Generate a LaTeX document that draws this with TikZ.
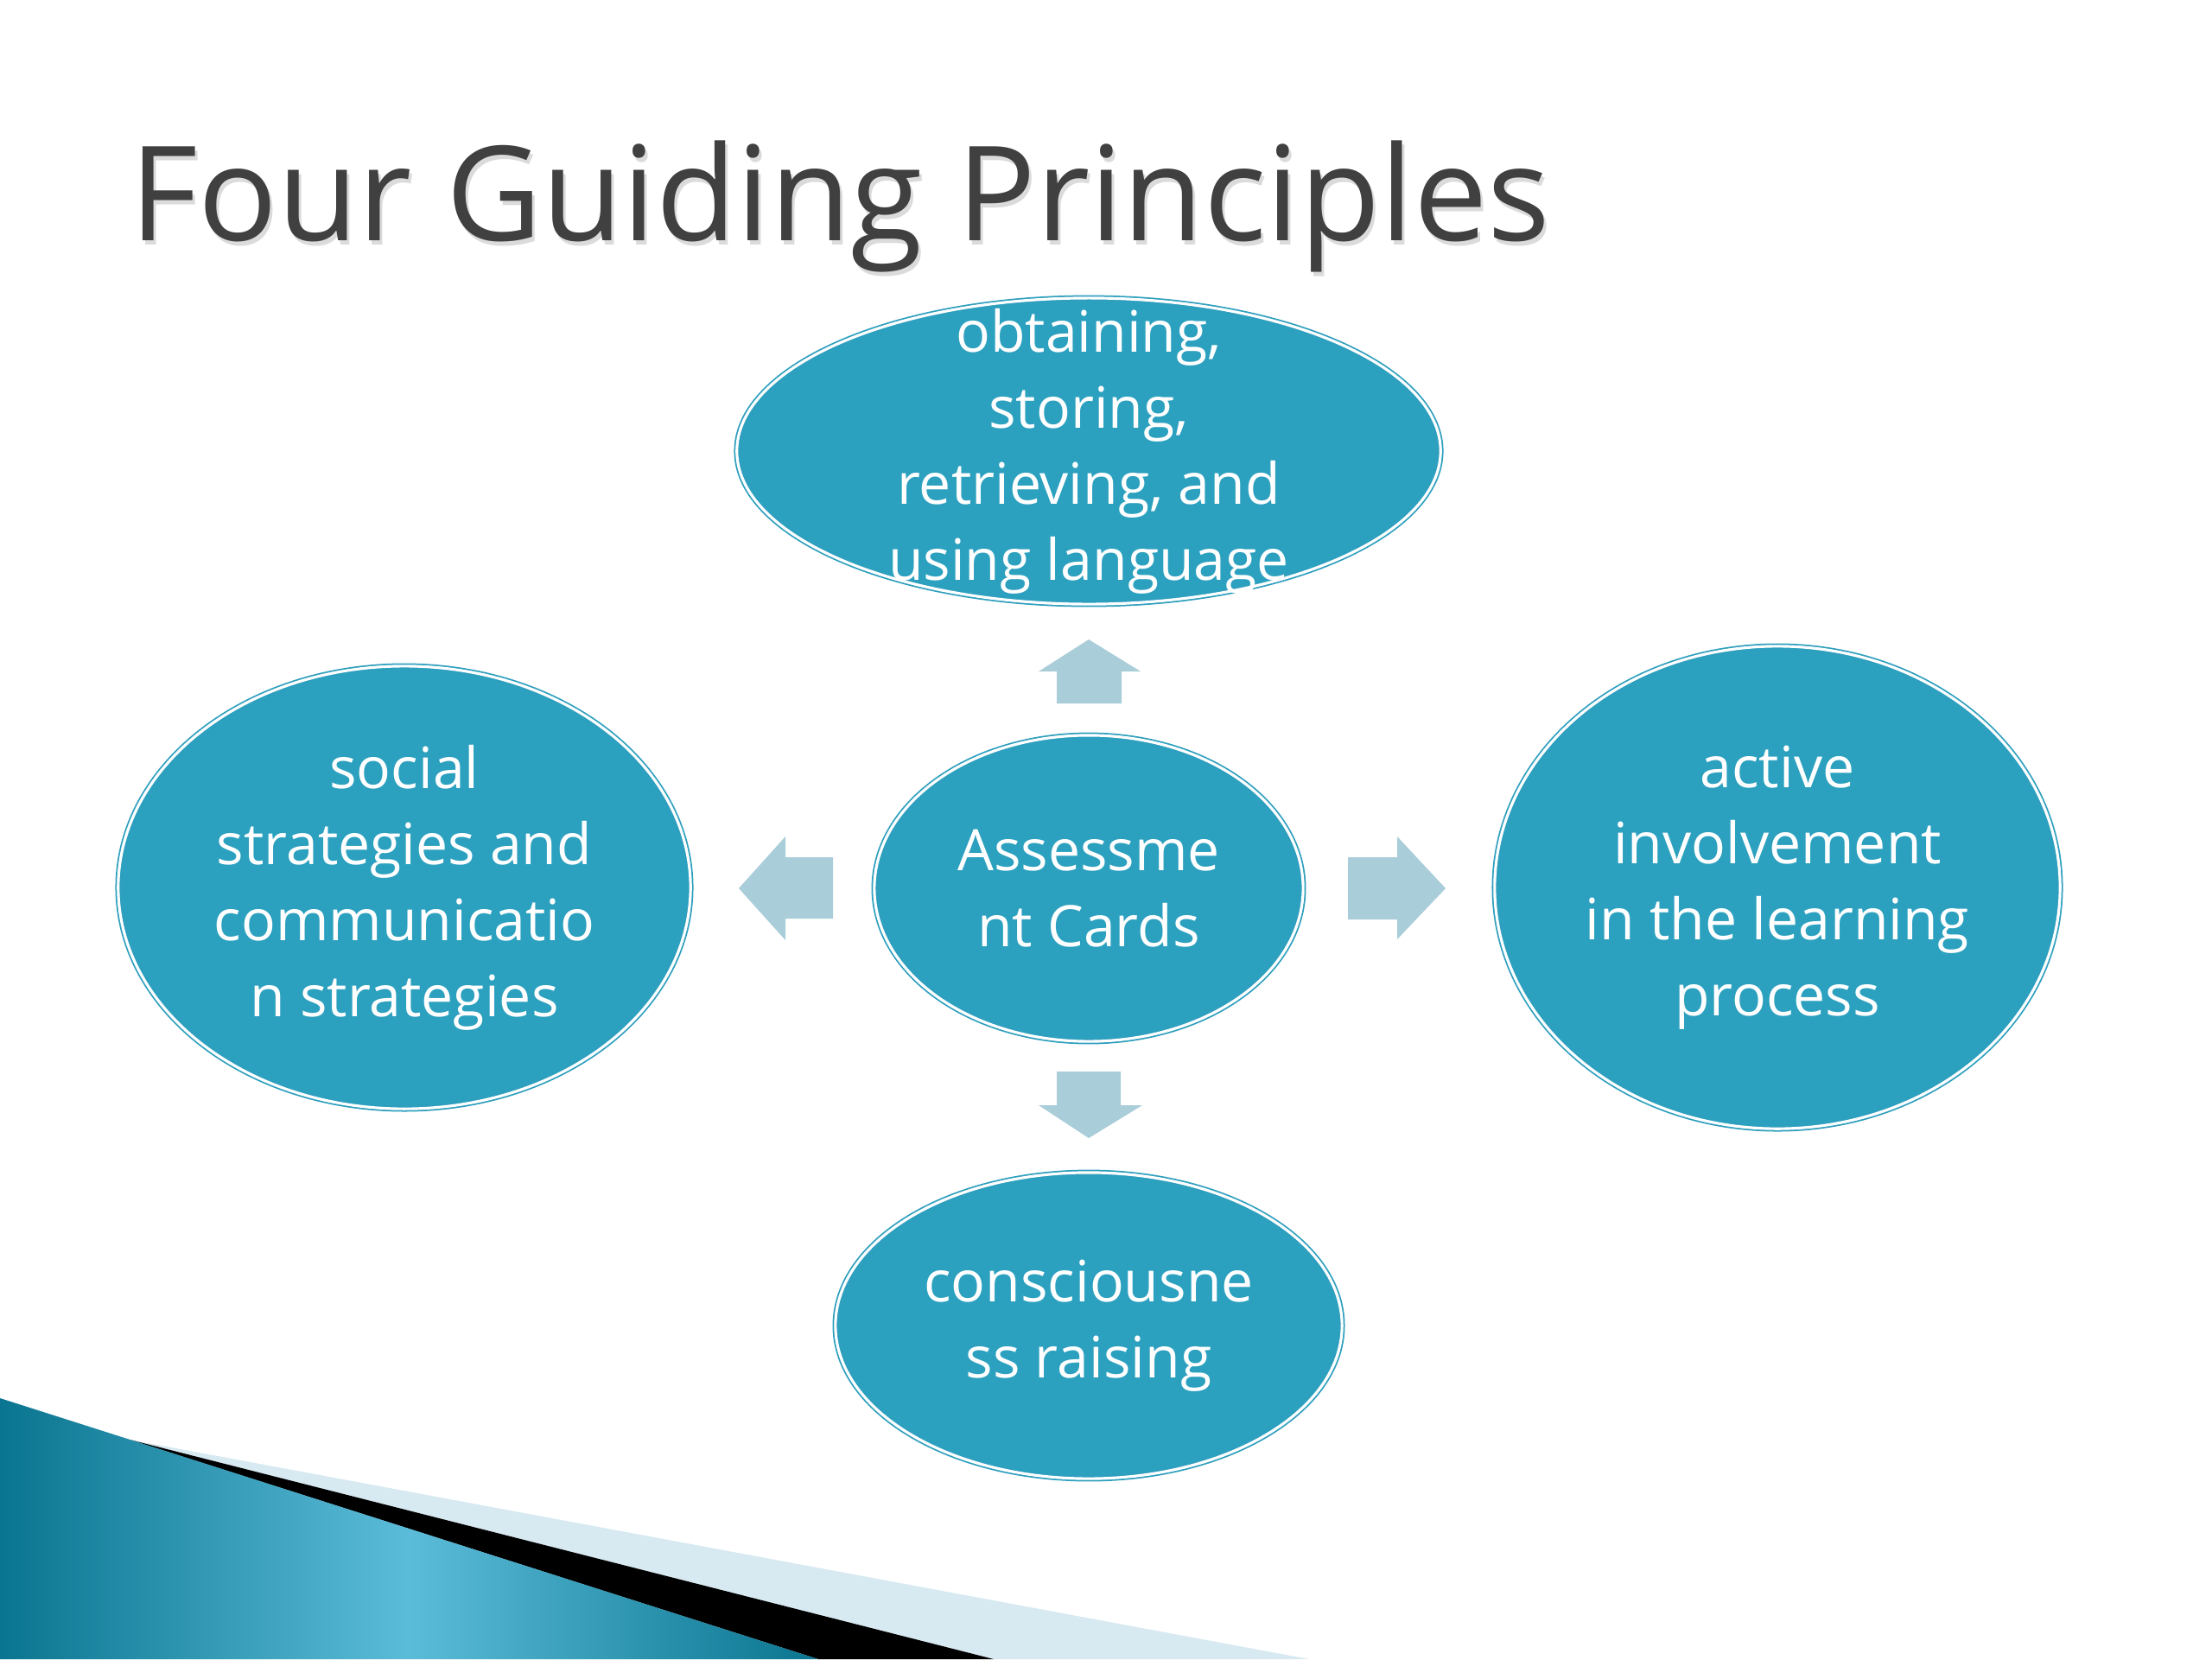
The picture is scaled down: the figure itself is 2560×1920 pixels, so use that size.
\documentclass[tikz,border=0pt]{standalone}
\usepackage{fontspec}
\setmainfont{Open Sans}
\usetikzlibrary{shapes.geometric}
\definecolor{ellfill}{HTML}{2CA1BF}
\definecolor{ellline}{HTML}{2E9FBE}
\definecolor{arrowfill}{HTML}{AACDDA}
\definecolor{titlegray}{HTML}{404040}
\definecolor{tealdark}{HTML}{0A7590}
\definecolor{teallight}{HTML}{5BBCD9}
\definecolor{paleblue}{HTML}{D7E9F1}
\begin{document}
\begin{tikzpicture}[x=0.01cm,y=-0.01cm,
  bubble/.style={ellipse, fill=ellfill, draw=ellline, double=white,
    double distance=0.9pt, line width=0.5pt, inner sep=0pt},
  bubbletext/.style={text=white, align=center, inner sep=0pt,
    font=\fontsize{18.8}{25}\selectfont},
  blockarrow/.style={fill=arrowfill, draw=none},
  titletext/.style={anchor=base west, inner sep=0pt, font=\fontsize{43.3}{50}\selectfont}]
\useasboundingbox[fill=white] (0,0) rectangle (2560,1920);

% title
\node[titletext, text=black!14] (titleshadow) at (153,283) {Four Guiding Principles};
\node[titletext, text=titlegray] (title) at (150,278) {Four Guiding Principles};

% bottom-left decoration
\fill[paleblue] (150,1666) -- (1515,1920) -- (1150,1920) -- cycle;
\fill[black] (150,1666) -- (1150,1920) -- (947,1920) -- cycle;
\shade[left color=tealdark, right color=tealdark, middle color=teallight]
  (0,1618) -- (947,1920) -- (0,1920) -- cycle;

% ellipses
\node[bubble, minimum width=8.14cm, minimum height=3.54cm] (obtain) at (1260,522) {};
\node[bubble, minimum width=6.62cm, minimum height=5.12cm] (social) at (468,1027) {};
\node[bubble, minimum width=4.96cm, minimum height=3.54cm] (cards) at (1260,1028) {};
\node[bubble, minimum width=6.54cm, minimum height=5.58cm] (active) at (2057,1027) {};
\node[bubble, minimum width=5.86cm, minimum height=3.54cm] (conscious) at (1260,1534) {};

% texts
\node[bubbletext] (obtaintext) at (obtain.center)
  {obtaining,\\storing,\\retrieving, and\\using language};
\node[bubbletext] (socialtext) at (social.center)
  {social\\strategies and\\communicatio\\n strategies};
\node[bubbletext] (cardstext) at (cards.center) {Assessme\\nt Cards};
\node[bubbletext] (activetext) at (active.center)
  {active\\involvement\\in the learning\\process};
\node[bubbletext] (conscioustext) at (conscious.center) {consciousne\\ss raising};

% block arrows
\fill[blockarrow] (1260,740) -- (1320,777) -- (1298,777) -- (1298,814) -- (1223,814) -- (1223,777) -- (1202,777) -- cycle;
\fill[blockarrow] (1223,1240) -- (1297,1240) -- (1297,1279) -- (1322,1279) -- (1260,1317) -- (1202,1279) -- (1223,1279) -- cycle;
\fill[blockarrow] (855,1028) -- (909,968) -- (909,992) -- (964,992) -- (964,1063) -- (909,1063) -- (909,1088) -- cycle;
\fill[blockarrow] (1560,992) -- (1617,992) -- (1617,968) -- (1673,1028) -- (1617,1087) -- (1617,1064) -- (1560,1064) -- cycle;
\end{tikzpicture}
\end{document}
